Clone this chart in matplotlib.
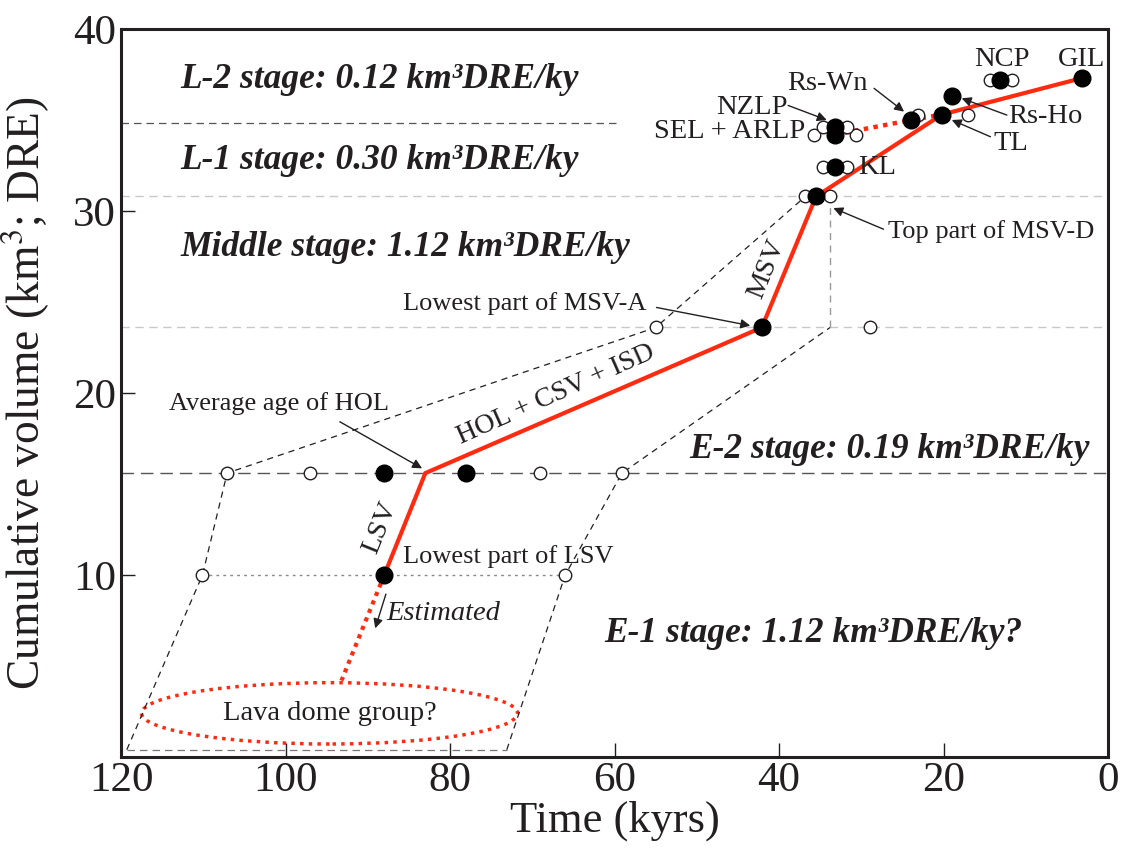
import matplotlib
matplotlib.use("Agg")
import matplotlib.pyplot as plt
from matplotlib.patches import Ellipse

# ── 글꼴/색 ──
plt.rcParams["font.family"] = ["Liberation Serif", "DejaVu Serif"]
plt.rcParams["mathtext.fontset"] = "stix"
INK = "#231f20"
RED = "#ff2b10"
GREY_D = "#555555"
GREY_L = "#c8c8c8"

# ── 누적 분출량 곡선 (age: kyrs, vol: km3 DRE) ──
trend_age = [88.0, 83.0, 42.1, 35.5, 20.2, 3.2]
trend_vol = [10.0, 15.6, 23.6, 30.8, 35.3, 37.3]

# 후기 분기 (점선)
late_age = [33.2, 23.9, 20.2]
late_vol = [34.2, 35.0, 35.3]

# LSV 이전 추정 구간
est_age = [88.0, 93.2]
est_vol = [10.0, 4.2]

# 연대 측정 지점 (중앙값)
dot_age = [88.0, 88.0, 78.1, 42.1, 35.5, 33.2, 33.2, 33.2, 23.9, 20.2, 19.0, 13.1, 3.2]
dot_vol = [10.0, 15.6, 15.6, 23.6, 30.8, 32.4, 34.2, 34.6, 35.0, 35.3, 36.3, 37.2, 37.3]

# 연대 오차 범위 끝점
err_age = [110.1, 66.0, 107.1, 97.0, 69.1, 59.1, 55.0, 28.9, 36.8, 33.8,
           35.8, 30.6, 34.6, 31.8, 34.6, 31.8, 23.1, 17.0, 14.4, 11.7]
err_vol = [10.0, 10.0, 15.6, 15.6, 15.6, 15.6, 23.6, 23.6, 30.8, 30.8,
           34.2, 34.2, 34.6, 34.6, 32.4, 32.4, 35.3, 35.3, 37.2, 37.2]

# 오차 포락선
env_left_age = [119.3, 110.1, 107.1, 55.0, 36.8]
env_left_vol = [0.4, 10.0, 15.6, 23.6, 30.8]
env_right_age = [73.1, 66.0, 59.1, 33.8]
env_right_vol = [0.4, 10.0, 15.6, 23.6]

# 단계 경계
stage_bounds = [34.85, 30.8, 23.6, 15.6]

fig = plt.figure(figsize=(11.27, 8.48), dpi=100)
ax = fig.add_axes([0.1074, 0.1073, 0.8758, 0.8585])

# 단계 경계선
ax.plot([120, 59.7], [stage_bounds[0]] * 2, color=GREY_D, lw=0.9, dashes=(6, 4))
ax.axhline(stage_bounds[1], color=GREY_L, lw=1.0, dashes=(6, 4))
ax.axhline(stage_bounds[2], color=GREY_L, lw=1.0, dashes=(6, 4))
ax.axhline(stage_bounds[3], color=GREY_D, lw=1.0, dashes=(9, 5))
ax.plot([err_age[0], err_age[1]], [10.0, 10.0], color="#888888", lw=1.0, dashes=(2, 3))

# 포락선
ax.plot(env_left_age, env_left_vol, color=INK, lw=0.9, dashes=(5, 4))
ax.plot(env_right_age, env_right_vol, color=INK, lw=0.9, dashes=(5, 4))
ax.plot([env_left_age[0], env_right_age[0]], [0.4, 0.4], color="#777777", lw=0.9, dashes=(6, 4))
ax.plot([33.8, 33.8], [23.6, 30.5], color="#999999", lw=1.0, dashes=(5, 4))

# 추정 구간 + 용암돔
ax.plot(est_age, est_vol, color=RED, lw=3, ls=(0, (1, 1.2)))
ax.add_patch(Ellipse((94.65, 2.4), 45.7, 3.37, fill=False, edgecolor=RED,
                     lw=2.5, ls=(0, (1, 1.5))))

# 분출량 추세선
ax.plot(trend_age, trend_vol, color=RED, lw=3, solid_joinstyle="miter", zorder=3)
ax.plot(late_age, late_vol, color=RED, lw=3.2, ls=(0, (1, 1.2)), zorder=3)

ax.plot(err_age, err_vol, "o", ms=9, mfc="white", mec=INK, mew=1.0, ls="none", zorder=4)
ax.plot(dot_age, dot_vol, "o", ms=12, color="black", ls="none", zorder=5)

ax.set_xlim(120, 0)
ax.set_ylim(0, 40)
ax.set_xticks([120, 100, 80, 60, 40, 20, 0])
ax.set_yticks([10, 20, 30, 40])
ax.tick_params(direction="in", length=10, width=1, labelsize=31, colors=INK)
for s in ax.spines.values():
    s.set_linewidth(2.2)
    s.set_color(INK)
ax.set_xlabel("Time (kyrs)", fontsize=32, color=INK, labelpad=0)
ax.set_ylabel("Cumulative volume (km$^3$; DRE)", fontsize=32.8, color=INK)
ax.yaxis.set_label_coords(-0.07, 0.5)

# 단계별 분출률
stage_kw = dict(fontsize=25.5, fontweight="bold", style="italic", color=INK,
                va="center", ha="left")
ax.text(112.8, 37.2, "L-2 stage: 0.12 km³DRE/ky", **stage_kw)
ax.text(112.8, 32.8, "L-1 stage: 0.30 km³DRE/ky", **stage_kw)
ax.text(112.8, 27.97, "Middle stage: 1.12 km³DRE/ky", **stage_kw)
ax.text(50.9, 16.9, "E-2 stage: 0.19 km³DRE/ky", **stage_kw)
ax.text(61.2, 6.8, "E-1 stage: 1.12 km³DRE/ky?", **stage_kw)

lab = dict(fontsize=19, color=INK, va="center")
big = dict(fontsize=20.5, color=INK, va="center")
arw = dict(arrowstyle="-|>", color=INK, lw=1.0, mutation_scale=14, shrinkA=0, shrinkB=0)

# 초기~중기 주석
ax.annotate("", xy=(43.5, 23.7), xytext=(54.9, 24.7), arrowprops=arw)
ax.text(85.7, 24.9, "Lowest part of MSV-A", ha="left", **lab)
ax.annotate("", xy=(83.4, 15.86), xytext=(93.4, 18.42), arrowprops=arw)
ax.text(114.2, 19.43, "Average age of HOL", ha="left", **lab)
ax.text(67.1, 19.9, "HOL + CSV + ISD", ha="center", rotation=24,
        rotation_mode="anchor", fontsize=20, color=INK, va="center")
ax.text(41.5, 26.8, "MSV", ha="center", rotation=68, rotation_mode="anchor", **big)
ax.text(88.5, 12.6, "LSV", ha="center", rotation=68, rotation_mode="anchor", **big)
ax.text(85.7, 11.0, "Lowest part of LSV", ha="left", **lab)
ax.annotate("", xy=(89.1, 7.07), xytext=(87.8, 8.95), arrowprops=arw)
ax.text(87.7, 7.9, "Estimated", ha="left", style="italic", **big)
ax.text(94.65, 2.4, "Lava dome group?", ha="center", **big)

# 후기 주석
ax.annotate("", xy=(33.4, 30.16), xytext=(27.3, 29.0), arrowprops=arw)
ax.text(26.7, 28.86, "Top part of MSV-D", ha="left", **lab)
ax.text(30.4, 32.4, "KL", ha="left", **big)
ax.text(36.8, 34.36, "SEL + ARLP", ha="right", **big)
ax.annotate("", xy=(34.2, 35.0), xytext=(38.9, 35.8), arrowprops=arw)
ax.text(38.9, 35.7, "NZLP", ha="right", **big)
ax.annotate("", xy=(24.8, 35.46), xytext=(28.45, 36.74), arrowprops=arw)
ax.text(29.2, 37.0, "Rs-Wn", ha="right", **big)
ax.annotate("", xy=(17.8, 36.19), xytext=(12.3, 35.27), arrowprops=arw)
ax.text(12.2, 35.2, "Rs-Ho", ha="left", **big)
ax.annotate("", xy=(19.0, 35.0), xytext=(14.3, 34.08), arrowprops=arw)
ax.text(13.9, 33.7, "TL", ha="left", **big)
ax.text(12.9, 38.3, "NCP", ha="center", **big)
ax.text(3.2, 38.3, "GIL", ha="center", **big)

fig.savefig("out.png", dpi=100)
